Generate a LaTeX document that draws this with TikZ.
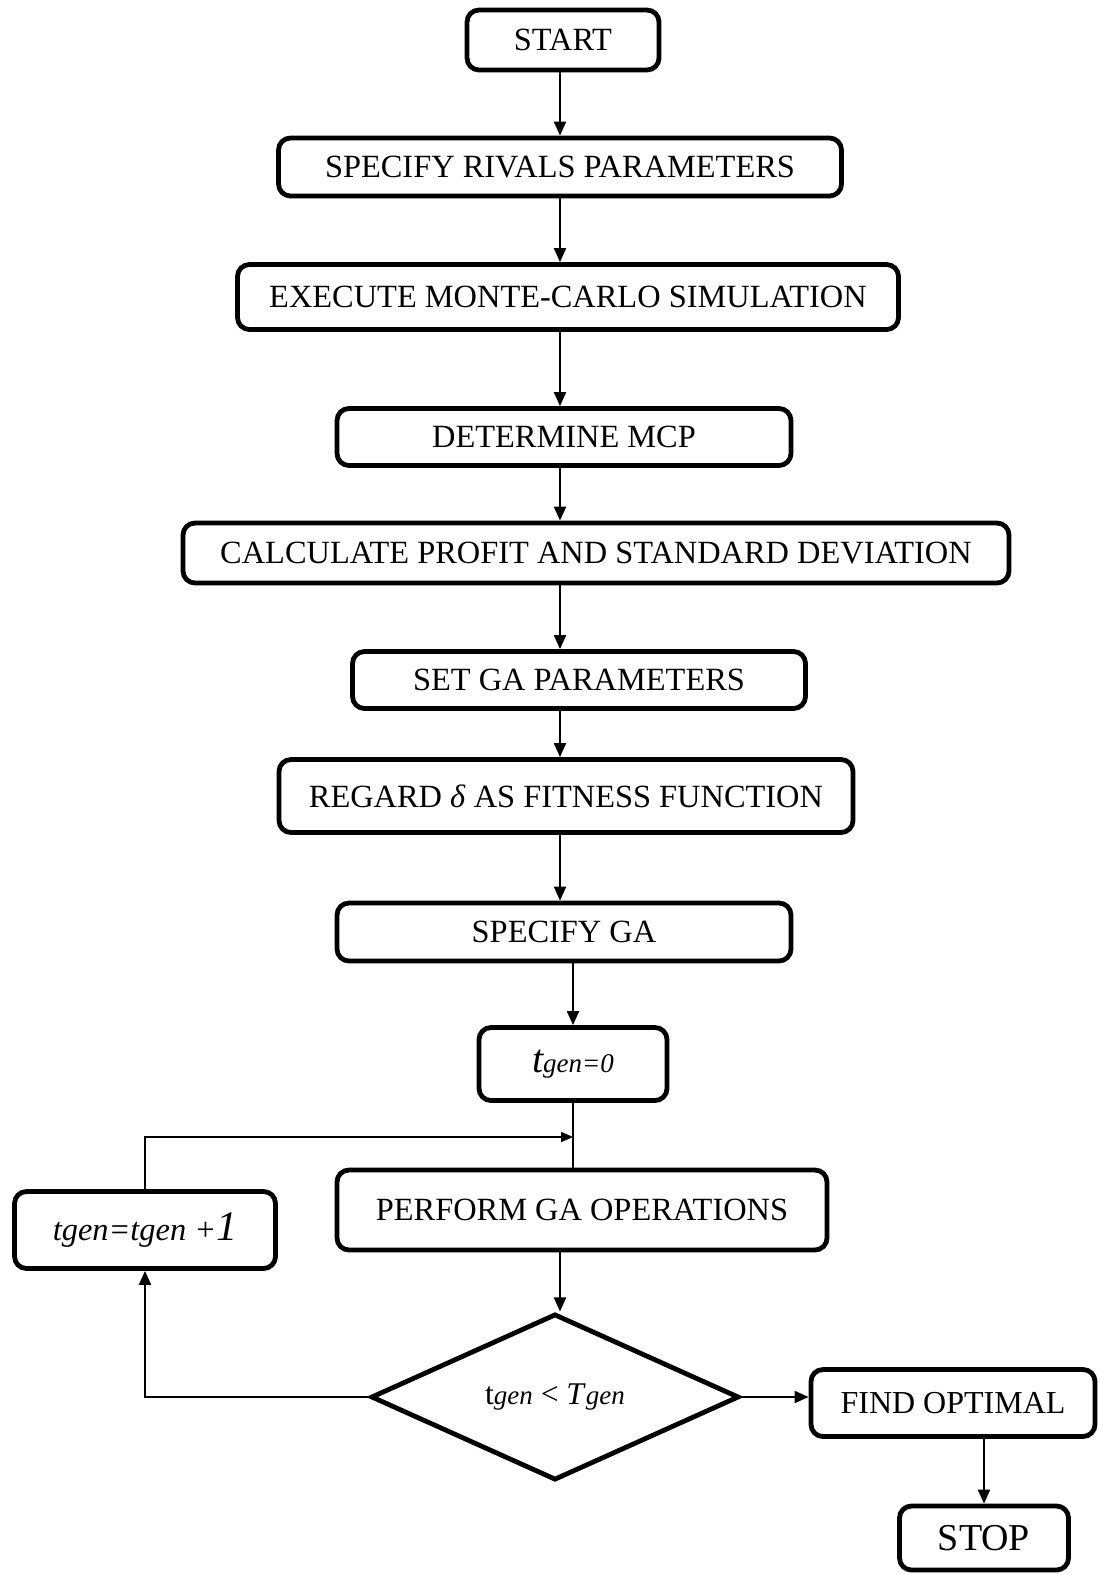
\documentclass[tikz,border=0pt]{standalone}
\usepackage{fontspec}
\setmainfont{Liberation Serif}
\usetikzlibrary{shapes.geometric,arrows.meta}

\tikzset{
  box/.style={draw=black, rounded corners=6pt, line width=2.4pt, inner sep=0pt, align=center, font=\fontsize{16.2}{19}\selectfont},
  test/.style={draw=black, shape=diamond, line width=2.4pt, inner sep=0pt, font=\fontsize{15.8}{18}\selectfont},
  arr/.style={-{Triangle[length=7pt,width=6pt]}, line width=1pt},
  loopline/.style={-{Triangle[length=6pt,width=5pt]}, line width=0.8pt}
}

\begin{document}
\begin{tikzpicture}[x=0.5pt, y=-0.5pt]

	\useasboundingbox (0,0) rectangle (1099,1575);

	\node[box, minimum width=96pt, minimum height=30pt] (start) at (563, 40)   {START};
	\node[box, minimum width=281.5pt, minimum height=29pt] (rivals) at (560, 167) {SPECIFY RIVALS PARAMETERS};
	\node[box, minimum width=330.5pt, minimum height=32.5pt] (monte) at (568, 297)  {EXECUTE MONTE-CARLO SIMULATION};
	\node[box, minimum width=227pt, minimum height=28.5pt] (mcp) at (564, 437)    {DETERMINE MCP};
	\node[box, minimum width=413pt, minimum height=30pt] (profit) at (596, 553) {CALCULATE PROFIT AND STANDARD DEVIATION};
	\node[box, minimum width=226.5pt, minimum height=28.5pt] (gapar) at (579, 680)  {SET GA PARAMETERS};
	\node[box, minimum width=287pt, minimum height=36.5pt] (fitness) at (566, 796) {REGARD \textit{δ} AS FITNESS FUNCTION};
	\node[box, minimum width=227pt, minimum height=29pt] (specga) at (564, 932) {SPECIFY GA};
	\node[box, minimum width=94pt, minimum height=36.5pt] (zero) at (573, 1064)
	     {\textit{{\fontsize{20}{20}\selectfont t}{\fontsize{13.5}{14}\selectfont gen=0}}};
	\node[box, minimum width=245pt, minimum height=40pt] (perform) at (582, 1210) {PERFORM GA OPERATIONS};
	\node[box, minimum width=130.5pt, minimum height=38.5pt] (inc) at (145, 1230)
	     {\textit{tgen=tgen +}{\fontsize{21}{21}\selectfont\textit{1}}};
	\node[test, minimum width=184pt, minimum height=81.5pt] (check) at (555, 1397)
	     {t{\fontsize{13.5}{14}\selectfont\textit{gen}} < \textit{T}{\fontsize{13.5}{14}\selectfont\textit{gen}}};
	\node[box, minimum width=142pt, minimum height=33.5pt, font=\fontsize{16}{18}\selectfont] (find) at (953, 1403) {FIND OPTIMAL};
	\node[box, minimum width=84.5pt, minimum height=32pt, font=\fontsize{19}{20}\selectfont] (stop) at (984, 1538) {STOP};

	\coordinate (join) at (573, 1137);

	\path[arr] (rivals.north |- start.south) edge (rivals.north);
	\path[arr] (rivals.south) edge (rivals.south |- monte.north);
	\path[arr] (rivals.south |- monte.south) edge (rivals.south |- mcp.north);
	\path[arr] (rivals.south |- mcp.south) edge (rivals.south |- profit.north);
	\path[arr] (rivals.south |- profit.south) edge (rivals.south |- gapar.north);
	\path[arr] (rivals.south |- gapar.south) edge (rivals.south |- fitness.north);
	\path[arr] (rivals.south |- fitness.south) edge (rivals.south |- specga.north);
	\path[arr] (zero.north |- specga.south) edge (zero.north);
	\draw[line width=1pt] (zero.south) -- (zero.south |- perform.north);
	\draw[loopline] (inc.north) |- (join);
	\path[arr] (rivals.south |- perform.south) edge (rivals.south |- check.north);
	\draw[arr] (check.west) -| (inc.south);
	\path[arr] (check.east) edge (find.west |- check.east);
	\path[arr] (find.south -| stop.north) edge (stop.north);

\end{tikzpicture}
\end{document}
